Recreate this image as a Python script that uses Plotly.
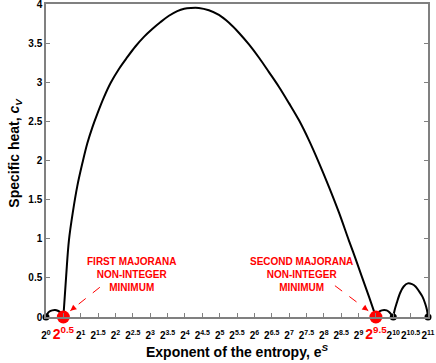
import plotly.graph_objects as go

# exponent k of e^S = 2^k, and specific heat c_V
arc1_k = [0.0, 0.04, 0.10, 0.18, 0.26, 0.34, 0.41, 0.46, 0.5]
arc1_cv = [0.0, 0.04, 0.07, 0.085, 0.09, 0.08, 0.06, 0.03, 0.0]

arc2_k = [0.5, 0.58, 0.66, 0.78, 0.90, 1.05, 1.19, 1.34, 1.48, 1.67, 1.86, 2.10, 2.34,
          2.58, 2.82, 3.06, 3.30, 3.54, 3.78, 3.98, 4.17, 4.40, 4.69, 4.98, 5.27, 5.56,
          5.85, 6.14, 6.42, 6.71, 7.0, 7.29, 7.57, 7.86, 8.15, 8.44, 8.72, 8.91, 9.10,
          9.30, 9.5]
arc2_cv = [0.0, 0.52, 0.98, 1.36, 1.67, 1.97, 2.22, 2.43, 2.60, 2.81, 2.99, 3.17, 3.32,
           3.46, 3.58, 3.68, 3.77, 3.85, 3.91, 3.94, 3.95, 3.95, 3.92, 3.86, 3.76, 3.63,
           3.48, 3.31, 3.13, 2.94, 2.73, 2.51, 2.26, 1.97, 1.66, 1.33, 0.98, 0.75, 0.51,
           0.26, 0.0]

arc3_k = [9.5, 9.54, 9.60, 9.67, 9.74, 9.81, 9.88, 9.94, 10.0]
arc3_cv = [0.0, 0.04, 0.07, 0.085, 0.09, 0.085, 0.065, 0.035, 0.0]

arc4_k = [10.0, 10.04, 10.1, 10.2, 10.3, 10.42, 10.54, 10.64, 10.74, 10.84, 10.92, 10.97, 11.0]
arc4_cv = [0.0, 0.09, 0.18, 0.31, 0.39, 0.43, 0.42, 0.39, 0.33, 0.26, 0.17, 0.09, 0.0]

black_dots_k = [0, 10, 11]
red_dots_k = [0.5, 9.5]

tick_k = [i * 0.5 for i in range(23)]
tick_text = []
for k in tick_k:
    exp = str(int(k)) if k == int(k) else str(k)
    if k in red_dots_k:
        tick_text.append(f'<span style="color:#ff0000;font-size:14px">2<sup>{exp}</sup></span>')
    else:
        tick_text.append(f"2<sup>{exp}</sup>")

font_family = "Liberation Sans, Arial, sans-serif"

fig = go.Figure()
for xs, ys in [(arc1_k, arc1_cv), (arc2_k, arc2_cv), (arc3_k, arc3_cv), (arc4_k, arc4_cv)]:
    fig.add_trace(go.Scatter(x=xs, y=ys, mode="lines", line=dict(color="black", width=2, shape="spline"),
                             cliponaxis=False, showlegend=False, hoverinfo="skip"))

fig.add_trace(go.Scatter(x=black_dots_k, y=[0] * len(black_dots_k), mode="markers",
                         marker=dict(color="black", size=7), cliponaxis=False, showlegend=False))
fig.add_trace(go.Scatter(x=red_dots_k, y=[0] * len(red_dots_k), mode="markers",
                         marker=dict(color="#ff0000", size=13), cliponaxis=False, showlegend=False))

labels = [
    dict(text="FIRST MAJORANA<br>NON-INTEGER<br>MINIMUM", x=2.45, line=(1.55, 0.38, 0.70, 0.08)),
    dict(text="SECOND MAJORANA<br>NON-INTEGER<br>MINIMUM", x=7.37, line=(8.32, 0.40, 9.28, 0.08)),
]
for lab in labels:
    fig.add_annotation(x=lab["x"], y=0.54, text=lab["text"], showarrow=False, xanchor="center", yanchor="middle",
                       font=dict(family=font_family, size=10, color="#ff0000", weight="bold"))
    x0, y0, x1, y1 = lab["line"]
    fig.add_shape(type="line", x0=x0, y0=y0, x1=x1, y1=y1, line=dict(color="#ff0000", width=1, dash="dash"))
    fig.add_annotation(x=x1, y=y1, ax=x1 - (x1 - x0) * 0.12, ay=y1 + (y0 - y1) * 0.12,
                       axref="x", ayref="y", text="", showarrow=True, arrowhead=2,
                       arrowsize=1.2, arrowwidth=1, arrowcolor="#ff0000")

# y title as an annotation so it can sit slightly above the plot centre
fig.add_annotation(xref="paper", yref="paper", x=0, y=0.525, xshift=-31, textangle=-90,
                   text="Specific heat, <i>c<sub>V</sub></i>", showarrow=False,
                   xanchor="center", yanchor="middle", font=dict(size=14))

fig.update_layout(
    width=436, height=363,
    margin=dict(l=46, r=8, t=4, b=46, autoexpand=False),
    plot_bgcolor="white", paper_bgcolor="white",
    font=dict(family=font_family, size=10, color="black", weight="bold"),
    xaxis=dict(range=[0, 11], tickvals=tick_k, ticktext=tick_text, tickangle=0, ticks="inside", ticklen=4,
               tickcolor="#808080", showline=True, linecolor="#808080", linewidth=1.5, mirror=True,
               showgrid=False, zeroline=False, tickfont=dict(size=10), ticklabelstandoff=8,
               ticklabeloverflow="allow",
               title=dict(text="Exponent of the entropy, e<sup><i>S</i></sup>", font=dict(size=14), standoff=6)),
    yaxis=dict(range=[0, 4], dtick=0.5, ticks="inside", ticklen=4, tickcolor="#808080",
               showline=True, linecolor="#808080", linewidth=1.5, mirror="ticks",
               showgrid=False, zeroline=False, tickfont=dict(size=10), ticklabeloverflow="allow"),
)

fig.write_html("out.html", post_script="document.body.style.margin='0';",
               config={"displayModeBar": False})
